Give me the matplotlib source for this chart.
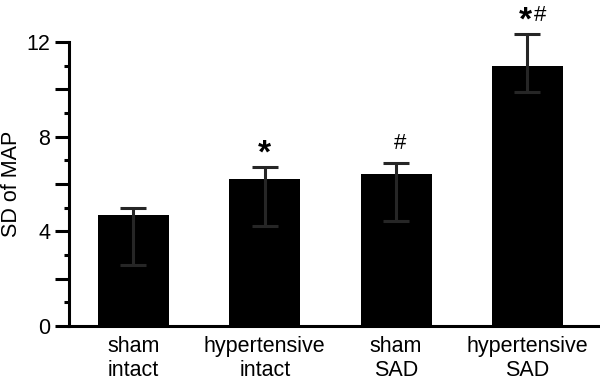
import matplotlib

matplotlib.use("Agg")

import matplotlib.pyplot as plt

GROUPS = [
    "sham\nintact",
    "hypertensive\nintact",
    "sham\nSAD",
    "hypertensive\nSAD",
]

MEAN_SD = [4.70, 6.21, 6.42, 10.98]
ERR_UP = [0.28, 0.51, 0.48, 1.34]
ERR_DOWN = [2.11, 1.99, 1.97, 1.08]

# significance marks: * vs sham intact, # vs intact
STAR = [False, True, False, True]
HASH = [False, False, True, True]

MAJOR_TICKS = [0, 2, 4, 6, 8, 10, 12]
MAJOR_LABELS = ["0", "", "4", "", "8", "", "12"]
MINOR_TICKS = [1, 3, 5, 7, 9, 11]

CHART = "out.png"


def generate_chart():

    plt.rcParams["font.family"] = ["Liberation Sans", "DejaVu Sans"]

    fig = plt.figure(figsize=(6, 3.86), dpi=100)
    ax = fig.add_axes([0.115, 0.1554, 0.8817, 0.7358])

    x = list(range(len(GROUPS)))

    ax.bar(x, MEAN_SD, width=0.54, color="black", zorder=1)

    ax.errorbar(
        x,
        MEAN_SD,
        yerr=[ERR_DOWN, ERR_UP],
        fmt="none",
        ecolor="#262626",
        elinewidth=2.2,
        capsize=9.4,
        capthick=2.2,
        clip_on=False,
        zorder=3,
    )

    for i, has_star in enumerate(STAR):
        top = MEAN_SD[i] + ERR_UP[i]
        both = has_star and HASH[i]
        if has_star:
            ax.annotate(
                "*",
                xy=(i, top),
                xytext=(-1.5 if both else 0, 3.3),
                textcoords="offset points",
                ha="center",
                va="baseline",
                fontsize=24,
                fontweight="bold",
                annotation_clip=False,
            )
        if HASH[i]:
            ax.annotate(
                "#",
                xy=(i, top),
                xytext=(9.4 if both else 2.7, 10),
                textcoords="offset points",
                ha="center",
                va="baseline",
                fontsize=16,
                annotation_clip=False,
            )

    ax.set_xlim(-0.491, 3.538)
    ax.set_ylim(0, 12)

    ax.set_xticks(x)
    ax.set_xticklabels(GROUPS, fontsize=15.5)
    ax.tick_params(axis="x", length=0, pad=7)

    ax.set_yticks(MAJOR_TICKS)
    ax.set_yticklabels(MAJOR_LABELS, fontsize=15.5)
    ax.set_yticks(MINOR_TICKS, minor=True)
    ax.tick_params(axis="y", which="major", length=10, width=2.2, pad=3.5)
    ax.tick_params(axis="y", which="minor", length=3.6, width=2.2)

    ax.set_ylabel("SD of MAP", fontsize=15.5)
    ax.yaxis.set_label_coords(-0.089, 0.5)

    for side in ["top", "right"]:
        ax.spines[side].set_visible(False)
    for side in ["left", "bottom"]:
        ax.spines[side].set_linewidth(2.2)

    fig.savefig(CHART, dpi=100)
    plt.close(fig)


def main():

    generate_chart()


if __name__ == "__main__":
    main()
